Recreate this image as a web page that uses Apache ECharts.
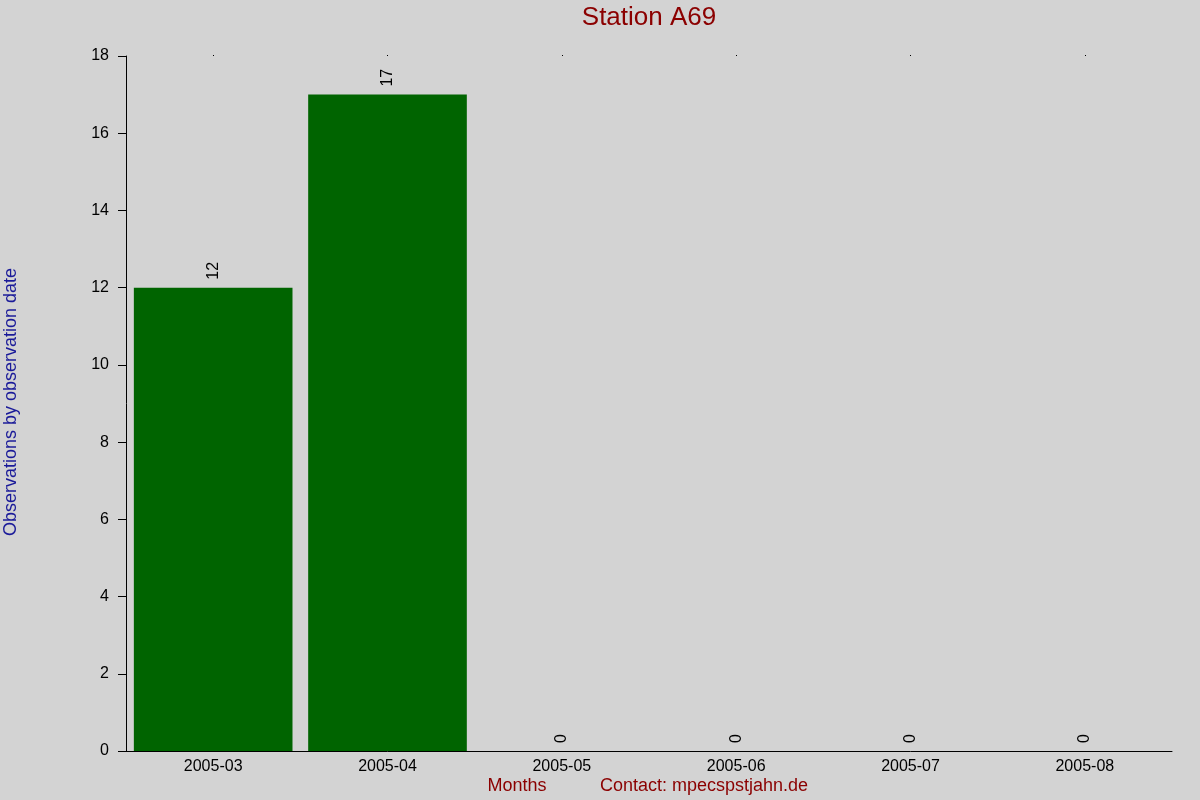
<!DOCTYPE html>
<html>
<head>
<meta charset="utf-8">
<script src="https://cdn.jsdelivr.net/npm/echarts@6/dist/echarts.min.js"></script>
<style>
  html, body { margin: 0; padding: 0; background: #d3d3d3; }
  #main { width: 1200px; height: 800px; }
</style>
</head>
<body>
<div id="main"></div>
<script>
// 數據
const months = ['2005-03', '2005-04', '2005-05', '2005-06', '2005-07', '2005-08'];
const observations = [12, 17, 0, 0, 0, 0];
const yTicks = [0, 2, 4, 6, 8, 10, 12, 14, 16, 18];

const chart = echarts.init(document.getElementById('main'));

const font = 'Liberation Sans, Arial, sans-serif';

const option = {
    backgroundColor: '#d3d3d3',
    animation: false,
    graphic: [
        {
            type: 'text',
            style: { text: 'Station A69', fill: '#8b0000', font: '26px ' + font, textAlign: 'center', textVerticalAlign: 'middle' },
            position: [649, 18]
        },
        {
            type: 'text',
            rotation: Math.PI / 2,
            style: {
                text: 'Observations by observation date',
                fill: '#1a1a99', font: '18px ' + font,
                textAlign: 'center', textVerticalAlign: 'middle'
            },
            position: [11, 402]
        },
        {
            type: 'text',
            style: { text: 'Months', fill: '#8b0000', font: '18px ' + font, textAlign: 'center', textVerticalAlign: 'middle' },
            position: [517, 786]
        },
        {
            type: 'text',
            style: { text: 'Contact: mpecspstjahn.de', fill: '#8b0000', font: '18px ' + font, textAlign: 'center', textVerticalAlign: 'middle' },
            position: [704, 786]
        }
    ],
    grid: { left: 126, right: 28, top: 56, bottom: 49, containLabel: false },
    xAxis: [
        {
            type: 'category',
            data: months,
            axisLine: { show: true, lineStyle: { color: '#000', width: 1 } },
            axisTick: { show: false },
            axisLabel: { color: '#000', fontSize: 16, fontFamily: font, margin: 8 },
            splitLine: { show: false }
        },
        {
            type: 'category',
            position: 'top',
            data: months,
            axisLine: { show: false },
            axisTick: { show: true, alignWithLabel: true, length: 1, lineStyle: { color: '#000' } },
            axisLabel: { show: false },
            splitLine: { show: false }
        }
    ],
    yAxis: {
        type: 'value',
        min: yTicks[0],
        max: yTicks[yTicks.length - 1],
        interval: 2,
        axisLine: { show: true, lineStyle: { color: '#000', width: 1 } },
        axisTick: { show: true, length: 8, lineStyle: { color: '#000' } },
        axisLabel: { color: '#000', fontSize: 16, fontFamily: font, margin: 17 },
        splitLine: { show: false }
    },
    series: [
        {
            type: 'bar',
            data: observations,
            barCategoryGap: '9%',
            itemStyle: { color: '#006400' },
            label: {
                show: true,
                position: 'top',
                rotate: 90,
                distance: 8,
                align: 'left',
                verticalAlign: 'middle',
                color: '#000',
                fontSize: 16,
                fontFamily: font
            }
        }
    ]
};

option && chart.setOption(option);
</script>
</body>
</html>
